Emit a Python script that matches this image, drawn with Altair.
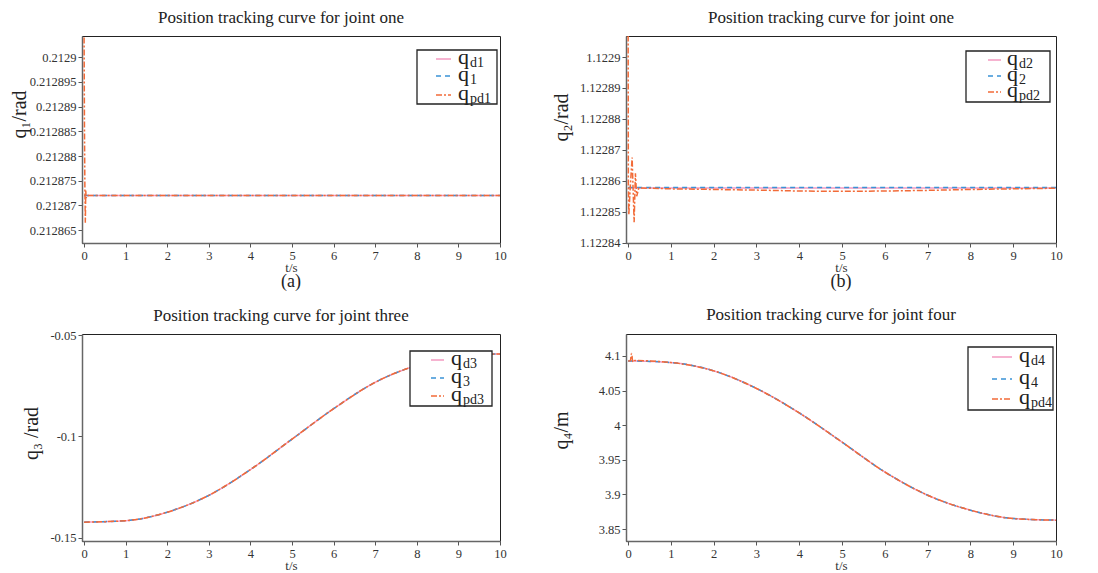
import altair as alt
import pandas as pd

FONT = "Liberation Serif"
C_D = "#f49ac1"
C_Q = "#3a93d6"
C_P = "#f26b38"

# ---------------- data ----------------
# (a) joint one
a_t = [0, 10]
a_qd = [0.212872, 0.212872]
a_q = [0.212872, 0.212872]
a_t_pd = [0, 0.01, 0.02, 0.03, 0.04, 0.05, 0.07, 10]
a_qpd = [0.212904, 0.212885, 0.212873, 0.2128665, 0.212873, 0.2128715, 0.212872, 0.212872]

# (b) joint two
b_t = [0, 10]
b_qd = [1.1228577, 1.1228577]
b_q = [1.1228578, 1.1228578]
b_t_pd = [0, 0.005, 0.016, 0.05, 0.093, 0.14, 0.17, 0.2, 0.25, 1, 2, 3, 4, 5, 6, 7, 8, 9, 10]
b_qpd = [1.122907, 1.122858, 1.122849, 1.122858, 1.1228675, 1.1228466, 1.1228624, 1.122855,
         1.1228577, 1.1228574, 1.1228572, 1.122857, 1.1228567, 1.1228566, 1.1228567,
         1.1228569, 1.1228572, 1.1228574, 1.1228576]

# (c) joint three
c_t = [0, 1, 2, 3, 4, 5, 6, 7, 8, 9, 10]
c_qd = [-0.1422, -0.1415, -0.1373, -0.129, -0.1163, -0.1013, -0.0863, -0.0733, -0.065, -0.0607, -0.0593]
c_q = [-0.1422, -0.1415, -0.1373, -0.129, -0.1163, -0.1013, -0.0863, -0.0733, -0.065, -0.0607, -0.0593]
c_qpd = [-0.1422, -0.1415, -0.1373, -0.129, -0.1163, -0.1013, -0.0863, -0.0733, -0.065, -0.0607, -0.0593]

# (d) joint four
d_t = [0, 1, 2, 3, 4, 5, 6, 7, 8, 9, 10]
d_qd = [4.0928, 4.0904, 4.0784, 4.053, 4.0176, 3.9755, 3.9324, 3.8989, 3.8773, 3.8653, 3.8629]
d_q = [4.0928, 4.0904, 4.0784, 4.053, 4.0176, 3.9755, 3.9324, 3.8989, 3.8773, 3.8653, 3.8629]
d_t_pd = [0, 0.05, 0.08, 0.11, 0.15, 1, 2, 3, 4, 5, 6, 7, 8, 9, 10]
d_qpd = [4.0928, 4.093, 4.1035, 4.091, 4.0932, 4.0904, 4.0784, 4.053, 4.0176, 3.9755, 3.9324,
         3.8989, 3.8773, 3.8653, 3.8629]

x_ticks = list(range(11))
a_yticks = [round(0.212865 + 0.000005 * k, 6) for k in range(8)]
b_yticks = [round(1.12284 + 0.00001 * k, 5) for k in range(7)]
c_yticks = [-0.15, -0.1, -0.05]
d_yticks = [round(3.85 + 0.05 * k, 2) for k in range(6)]

STYLES = [
    (C_D, [1, 0]),
    (C_Q, [5, 4]),
    (C_P, [6, 2, 2, 2]),
]

one = pd.DataFrame({"k": [0]})


def panel(series, ydom, yticks, yfmt, ytitle, ytpad, ytitleY, title, toff, subs, legend,
          W, H, interp, tag=None):
    xenc = alt.X("t:Q", scale=alt.Scale(domain=[-0.05, 10], nice=False, zero=False),
                 axis=alt.Axis(values=x_ticks, format="d", title="t/s", titleFont=FONT,
                               titleFontSize=13, titleFontWeight="normal", titleColor="#333",
                               titlePadding=0, labelFont=FONT, labelFontSize=12.5,
                               labelColor="#333", tickColor="#555", tickSize=4,
                               domainColor="#666", domainWidth=1.5, grid=False,
                               labelPadding=2, labelFlush=False))
    yenc = alt.Y("v:Q", scale=alt.Scale(domain=ydom, nice=False, zero=False),
                 axis=alt.Axis(values=yticks, format=yfmt,
                               labelExpr="replace(datum.label, '\u2212', '-')",
                               title=ytitle, titleFont=FONT, titleFontSize=20,
                               titleFontWeight="normal", titleColor="#222",
                               titlePadding=ytpad, titleY=ytitleY, labelFont=FONT,
                               labelFontSize=12.5, labelColor="#333", tickColor="#555",
                               tickSize=4, domainColor="#666", domainWidth=1.5,
                               grid=False, labelPadding=2))
    layers = []
    for (tt, vv), (col, dash) in zip(series, STYLES):
        df = pd.DataFrame({"t": tt, "v": vv})
        layers.append(
            alt.Chart(df).mark_line(color=col, strokeDash=dash, strokeWidth=1.5,
                                    clip=True, interpolate=interp)
            .encode(x=xenc, y=yenc)
        )
    # custom legend (box + samples + sub-scripted labels)
    bx0, bx1, by0, by1, rows, sx0, sx1, qx = legend
    layers.append(
        alt.Chart(one).mark_rect(fill="white", stroke="#222", strokeWidth=1.3)
        .encode(x=alt.value(W - bx0), x2=alt.value(W - bx1),
                y=alt.value(by0), y2=alt.value(by1))
    )
    for r, sub, (col, dash) in zip(rows, subs, STYLES):
        layers.append(
            alt.Chart(one).mark_rule(color=col, strokeDash=dash, strokeWidth=1.5)
            .encode(x=alt.value(W - sx0), x2=alt.value(W - sx1), y=alt.value(r))
        )
        layers.append(
            alt.Chart(one).mark_text(font=FONT, fontSize=22, color="#222",
                                     align="left", baseline="alphabetic")
            .encode(x=alt.value(W - qx), y=alt.value(r + 5), text=alt.value("q"))
        )
        layers.append(
            alt.Chart(one).mark_text(font=FONT, fontSize=14, color="#222",
                                     align="left", baseline="alphabetic")
            .encode(x=alt.value(W - qx + 12), y=alt.value(r + 8), text=alt.value(sub))
        )
    if tag:
        layers.append(
            alt.Chart(one).mark_text(font=FONT, fontSize=18, color="#222",
                                     align="center", baseline="middle")
            .encode(x=alt.value(W / 2), y=alt.value(H + 39), text=alt.value(tag))
        )
    return alt.layer(*layers).properties(
        width=W, height=H,
        title=alt.TitleParams(title, font=FONT, fontSize=17, fontWeight="normal",
                              color="#222", offset=toff, dx=-10, anchor="middle"),
    )


WL, WR, H = 418, 430, 207

pa = panel([(a_t, a_qd), (a_t, a_q), (a_t_pd, a_qpd)],
           [0.2128624, 0.2129043], a_yticks, ".6~f", "q\u2081/rad", 0, 78,
           "Position tracking curve for joint one", 9, ["d1", "1", "pd1"],
           (83, 3, 14, 68, [23, 40, 59], 64, 49, 42), WL, H, "linear", "(a)")

pb = panel([(b_t, b_qd), (b_t, b_q), (b_t_pd, b_qpd)],
           [1.1228399, 1.1229068], b_yticks, ".5~f", "q\u2082/rad", 8, 81,
           "Position tracking curve for joint one", 9, ["d2", "2", "pd2"],
           (90, 6, 15, 66, [24, 40, 56], 68, 55, 49), WR, H, "linear", "(b)")

pc = panel([(c_t, c_qd), (c_t, c_q), (c_t, c_qpd)],
           [-0.1515, -0.0495], c_yticks, ".2~f", "q\u2083 /rad", 8, 99,
           "Position tracking curve for joint three", 4, ["d3", "3", "pd3"],
           (90, 8, 17, 72, [26, 44, 62], 69, 56, 49), WL, H, "monotone")

pd_ = panel([(d_t, d_qd), (d_t, d_q), (d_t_pd, d_qpd)],
            [3.8328, 4.1316], d_yticks, ".2~f", "q\u2084/m", 27, 96,
            "Position tracking curve for joint four", 10, ["d4", "4", "pd4"],
            (88, 3, 13, 76, [23, 45, 65], 64, 44, 37), WR, H, "monotone")

chart = alt.concat(pa, pb, pc, pd_, columns=2, spacing={"row": 13, "column": 43}).properties(
    padding=0, background="white"
).configure_view(stroke="#222", strokeWidth=1)

chart.save("out.html", embed_options={"renderer": "svg", "actions": False})
